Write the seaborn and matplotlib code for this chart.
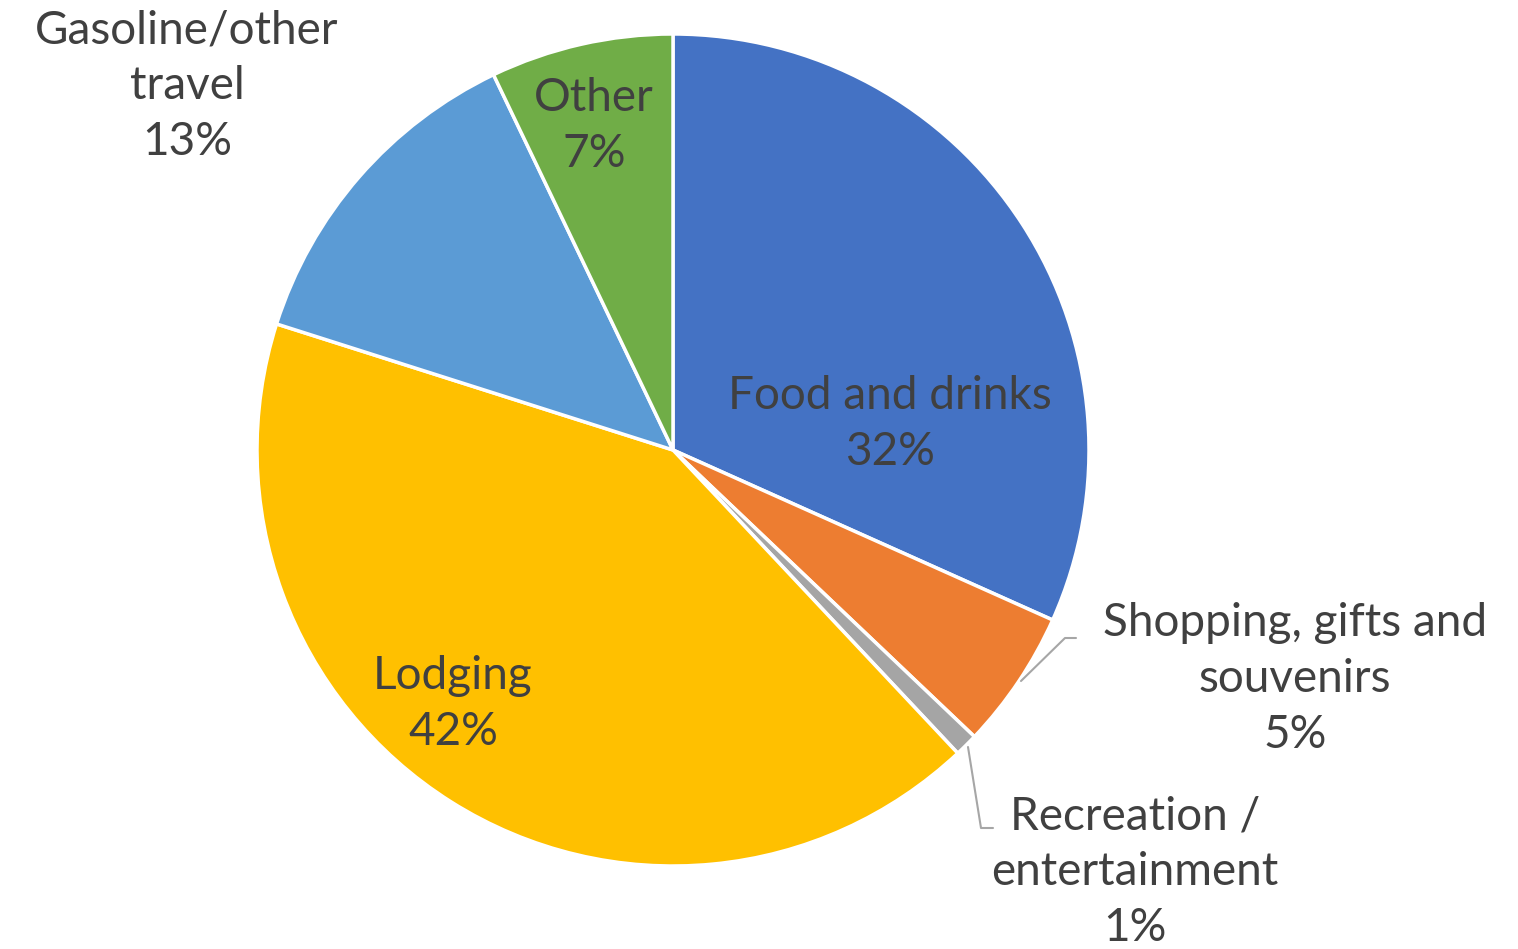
"""Pie chart of visitor spending by category."""

import matplotlib
matplotlib.use('Agg')
import matplotlib.pyplot as plt
import seaborn as sns

# Data
categories = ["Food and drinks", "Shopping, gifts and\nsouvenirs", "Recreation /\nentertainment",
              "Lodging", "Gasoline/other\ntravel", "Other"]
shares = [31.7, 5.4, 0.9, 41.9, 13.0, 7.1]
colors = ["#4472C4", "#ED7D31", "#A5A5A5", "#FFC000", "#5B9BD5", "#70AD47"]

sns.set_theme(style="white")
plt.rcParams['font.family'] = ['Lato', 'DejaVu Sans']

W, H = 1518, 949
R = 416  # pie radius in px
cx, cy = 673, 450  # pie centre in px (from top-left)

fig = plt.figure(figsize=(W / 100, H / 100), dpi=100)
ax = fig.add_axes([0, 0, 1, 1])

ax.pie(shares, colors=colors, startangle=90, counterclock=False, radius=1,
       wedgeprops=dict(edgecolor="white", linewidth=2.5))

ax.set_xlim(-cx / R, (W - cx) / R)
ax.set_ylim(-(H - cy) / R, cy / R)
ax.set_aspect('equal')
ax.axis('off')


def px(x, y):
    """Convert pixel position (top-left origin) to data coords."""
    return (x - cx) / R, (cy - y) / R


# label centres in pixels
label_pos = [(890, 424), (1295, 679), (1135, 872), (453, 704), (187, 86), (594, 126)]
text_color = "#404040"
for cat, val, (lx, ly) in zip(categories, shares, label_pos):
    x, y = px(lx, ly)
    ax.text(x, y, f"{cat}\n{val:.0f}%", ha='center', va='center', fontsize=33,
            color=text_color, linespacing=1.4)

# leader lines
leaders = [
    [(1021, 681), (1065, 638), (1076, 638)],
    [(968, 747), (981, 828), (993, 828)],
]
for pts in leaders:
    xs, ys = zip(*[px(a, b) for a, b in pts])
    ax.plot(xs, ys, color="#A6A6A6", linewidth=1.5)

plt.savefig("out.png", dpi=100)
plt.close()
